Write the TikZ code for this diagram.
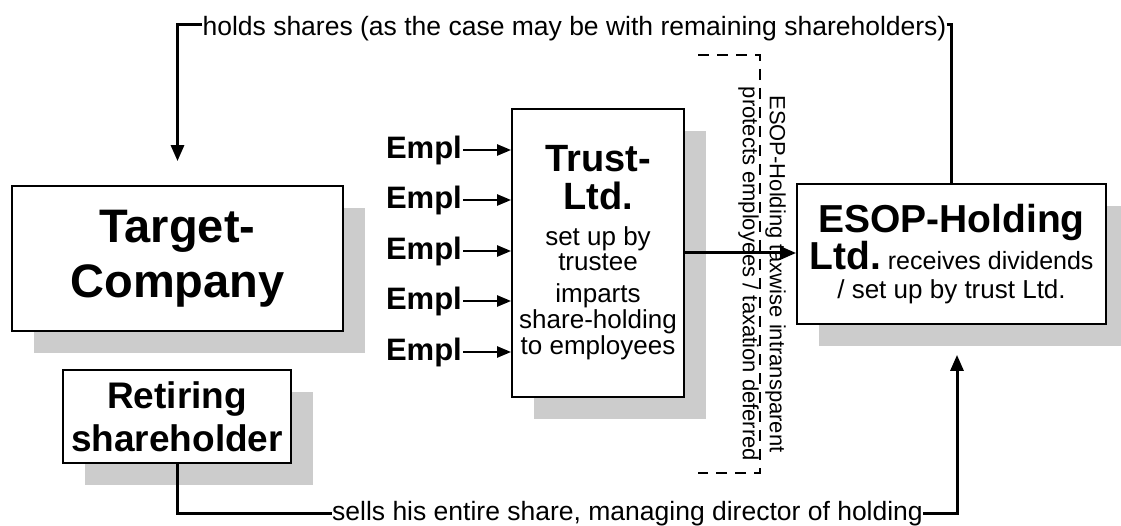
\documentclass[tikz,border=0pt]{standalone}
\usepackage{fontspec}
\setmainfont{Liberation Sans}
\usetikzlibrary{arrows.meta,shadows}
\begin{document}
\begin{tikzpicture}[x=1pt,y=-1pt,
  box/.style={draw, line width=1.8pt, fill=white, inner sep=0pt, align=flush center,
    drop shadow={shadow xshift=22pt, shadow yshift=-22pt, fill=black!20, opacity=1}},
  conn/.style={line width=3pt},
  arr/.style={conn, -{Triangle[length=16pt,width=13pt]}},
  earr/.style={line width=2.4pt, -{Triangle[length=14pt,width=11pt]}},
  lbl/.style={font=\fontsize{26.5}{30}\selectfont, inner sep=0pt, anchor=base},
  empl/.style={font=\fontsize{31}{31}\selectfont\bfseries, inner sep=1pt, anchor=east},
  dashbr/.style={line width=2.5pt, dash pattern=on 11pt off 8pt},
]
\useasboundingbox (0,0) rectangle (1121,526);

% boxes
\node[box, minimum width=331pt, minimum height=145pt, text width=325pt] (tc) at (177.5,258.5)
  {\fontsize{47}{55}\selectfont\bfseries Target-\\Company\par};
\node[box, minimum width=228pt, minimum height=93pt, text width=224pt] (ret) at (177,416.5)
  {\fontsize{37}{43}\selectfont\bfseries Retiring\\shareholder\par};
\node[box, minimum width=172pt, minimum height=288pt, text width=168pt] (trust) at (598,253)
  {{\fontsize{38}{38}\selectfont\bfseries Trust-\\Ltd.\par}\vspace{11pt}%
   {\fontsize{26}{25}\selectfont set up by\\trustee\par}\vspace{6pt}%
   {\fontsize{26}{26}\selectfont imparts\\share-holding\\to employees\par}};
\node[box, minimum width=309pt, minimum height=140pt, text width=305pt] (esop) at (951.5,254)
  {{\fontsize{39}{36}\selectfont\bfseries ESOP-Holding\\Ltd.{\fontsize{25}{25}\selectfont\mdseries\ receives dividends}\par}%
   {\fontsize{26}{29}\selectfont / set up by trust Ltd.\par}};

% employees
\foreach \i/\y in {1/150,2/200,3/251,4/301,5/352}{
  \node[empl] (e\i) at (463,\y) {Empl};
  \draw[earr] (e\i.east) -- (e\i.east -| trust.west);
}

% trust -> esop
\draw[arr] (trust.east) -- (trust.east -| esop.west);

% note with dashed bracket
\node[rotate=-90, font=\fontsize{22}{27}\selectfont, align=center, inner sep=0pt] (note) at (762,274)
  {ESOP-Holding taxwise intransparent\\protects employees / taxation deferred};
\coordinate (b1) at (698,55);
\coordinate (b2) at (760,55);
\coordinate (b3) at (760,473);
\coordinate (b4) at (698,473);
\draw[dashbr] (b1) -- (b2) -- (b3) -- (b4);

% top connector
\coordinate (ty) at (0,25);
\node[lbl] (top) at (574.5,36) {holds shares (as the case may be with remaining shareholders)};
\draw[arr, shorten >=24pt] (top.west |- ty) -| (tc.north);
\draw[conn] (top.east |- ty) -| (esop.north);

% bottom connector
\coordinate (by) at (0,513);
\node[lbl] (bot) at (627.5,520) {sells his entire share, managing director of holding};
\draw[conn] (ret.south) |- (bot.west |- by);
\draw[arr, shorten >=30pt] (bot.east |- by) -| ([xshift=5.5pt]esop.south);
\end{tikzpicture}
\end{document}
